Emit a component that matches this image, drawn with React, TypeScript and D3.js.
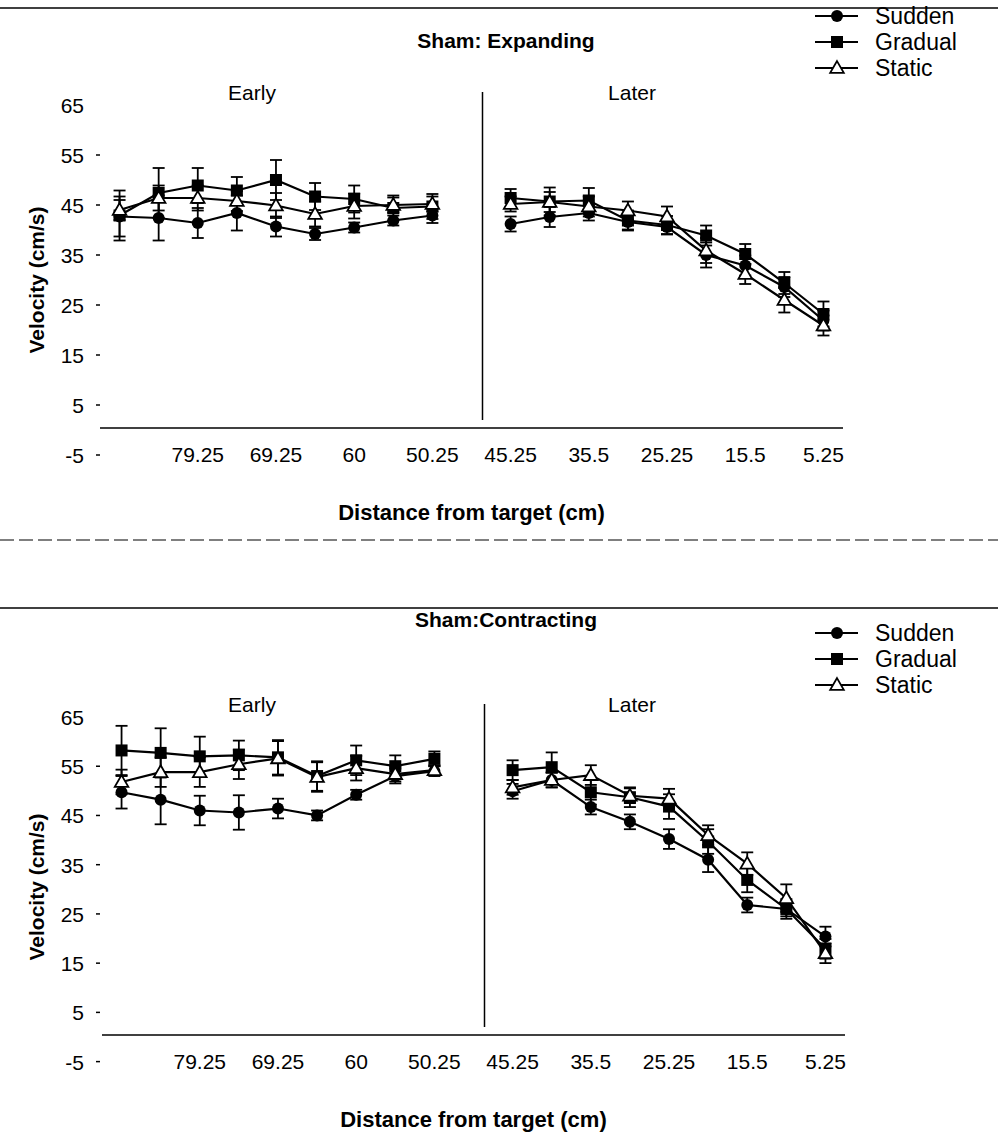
import * as d3 from 'd3'

// x categories: 9 early points (slots 0-8), gap (slot 9), 9 later points (slots 10-18)
const categoryLabels = ['', '', '79.25', '', '69.25', '', '60', '', '50.25', '', '45.25', '', '35.5', '', '25.25', '', '15.5', '', '5.25']
const yTicks = [65, 55, 45, 35, 25, 15, 5, -5]
const seriesNames = ['Sudden', 'Gradual', 'Static']

// Sham: Expanding
const expSudden = [42.3, 42, 41, 43, 40.3, 38.8, 40.1, 41.5, 42.5, 40.8, 42.2, 43, 41.2, 40.2, 34.6, 32.5, 28.2, 21.5]
const expSuddenErr = [4, 4.5, 3, 3.5, 2, 1.2, 1, 1, 1.5, 1.5, 2, 1.5, 1.5, 1.5, 2.5, 2, 2, 2]
const expGradual = [42.5, 47, 48.5, 47.5, 49.6, 46.3, 45.8, 44, 44.3, 46, 45.3, 45.5, 41.5, 40.6, 38.5, 34.8, 29, 22.8]
const expGradualErr = [5, 5, 3.5, 2.7, 4, 2.7, 2.7, 2.5, 2.5, 1.8, 2.8, 2.5, 2, 1.8, 2, 2, 2.2, 2.5]
const expStatic = [43.6, 46, 46, 45.4, 44.5, 42.8, 44.4, 44.6, 44.8, 44.8, 45.2, 44.3, 43.5, 42.3, 35.5, 30.8, 25.6, 20.5]
const expStaticErr = [2, 2.5, 2.5, 2, 2.5, 2.5, 2.5, 1.5, 1.5, 1.5, 2, 2, 1.8, 2, 2.5, 2, 2.5, 2]

// Sham: Contracting
const conSudden = [49.3, 47.8, 45.6, 45.2, 46, 44.6, 48.8, 52.6, 53.6, 49.5, 51.8, 46.3, 43.3, 39.8, 35.6, 26.4, 25.6, 20]
const conSuddenErr = [3.3, 5, 3, 3.5, 2, 1, 1, 1.5, 1, 1.5, 1.5, 1.5, 1.5, 2, 2.5, 1.5, 1.5, 2]
const conGradual = [57.8, 57.3, 56.6, 56.8, 56.4, 52.6, 55.8, 54.6, 56.1, 53.8, 54.4, 49.3, 48.3, 46.4, 39.3, 31.5, 25.6, 17.5]
const conGradualErr = [5, 5, 4, 3, 3.5, 3, 3, 2.2, 1.5, 2, 3, 2.5, 2, 2.5, 2.5, 2.5, 2, 2]
const conStatic = [51.4, 53.4, 53.4, 55, 56.2, 52.4, 54.2, 53, 53.8, 50.3, 51.8, 52.8, 48.6, 48, 40.6, 34.8, 27.8, 16.6]
const conStaticErr = [2.5, 3, 3, 3, 3.5, 3, 2.5, 1.5, 1, 1.5, 1.5, 2, 1.5, 2, 2, 2.3, 2.8, 2]

const slotOf = (i: number) => (i < 9 ? i : i + 1)

type PanelProps = {
  title: string
  titleY: number
  zeroY: number
  topY: number
  legendY: number
  legendGap: number
  xShift: number
  values: number[][]
  errors: number[][]
}

const Marker = ({ kind, cx, cy }: { kind: number; cx: number; cy: number }) => {
  if (kind === 0) return <circle cx={cx} cy={cy} r={6} fill="#000" />
  if (kind === 1) return <rect x={cx - 6} y={cy - 6} width={12} height={12} fill="#000" />
  const tri = d3.symbol(d3.symbolTriangle, 80)()
  return <path d={tri ?? ''} transform={`translate(${cx},${cy + 1})`} fill="#fff" stroke="#000" strokeWidth={1.8} />
}

const Panel = (p: PanelProps) => {
  const x = d3
    .scalePoint<number>()
    .domain(d3.range(19))
    .range([100 + p.xShift, 843 + p.xShift])
    .padding(0.5)
  const y = d3.scaleLinear().domain([0, 65]).range([p.zeroY, p.topY])
  const line = d3
    .line<number>()
    .x((_, i) => x(slotOf(i)) as number)
    .y((d) => y(d))
  const lineLater = d3
    .line<number>()
    .x((_, i) => x(i + 10) as number)
    .y((d) => y(d))
  const divX = (x(9) as number) + 11
  const font = 'Liberation Sans, Arial, sans-serif'
  const x0 = 100 + p.xShift
  const x1 = 843 + p.xShift

  return (
    <g fontFamily={font}>
      <text x={506} y={p.titleY} textAnchor="middle" fontSize={21} fontWeight="bold">
        {p.title}
      </text>
      <text x={252} y={y(65) - 3} textAnchor="middle" fontSize={21}>Early</text>
      <text x={632} y={y(65) - 3} textAnchor="middle" fontSize={21}>Later</text>

      {/* y axis ticks and labels */}
      {yTicks.map((t) => (
        <g key={t}>
          <text x={84} y={y(t) + 10} textAnchor="end" fontSize={21}>
            {t}
          </text>
          {t !== 65 && <line x1={96} x2={100} y1={y(t) + 2} y2={y(t) + 2} stroke="#000" strokeWidth={1.5} />}
        </g>
      ))}
      <text
        transform={`translate(44,${y(0) - 148}) rotate(-90)`}
        textAnchor="middle"
        fontSize={21}
        fontWeight="bold"
      >
        Velocity (cm/s)
      </text>

      {/* x axis */}
      <line x1={x0} x2={x1} y1={y(0)} y2={y(0)} stroke="#000" strokeWidth={1.5} />
      <line x1={divX} x2={divX} y1={y(65) - 11} y2={y(0) - 8} stroke="#000" strokeWidth={1.5} />
      {categoryLabels.map((c, i) =>
        c ? (
          <text key={i} x={x(i)} y={y(0) + 34} textAnchor="middle" fontSize={21}>
            {c}
          </text>
        ) : null
      )}
      <text x={(x0 + x1) / 2} y={y(0) + 92} textAnchor="middle" fontSize={22} fontWeight="bold">
        Distance from target (cm)
      </text>

      {/* series */}
      {p.values.map((vals, s) => (
        <g key={s}>
          {vals.map((v, i) => {
            const cx = x(slotOf(i)) as number
            const e = p.errors[s][i]
            return (
              <g key={i} stroke="#000" strokeWidth={1.8}>
                <line x1={cx} x2={cx} y1={y(v - e)} y2={y(v + e)} />
                <line x1={cx - 6} x2={cx + 6} y1={y(v - e)} y2={y(v - e)} />
                <line x1={cx - 6} x2={cx + 6} y1={y(v + e)} y2={y(v + e)} />
              </g>
            )
          })}
          <path d={line(vals.slice(0, 9)) ?? ''} fill="none" stroke="#000" strokeWidth={2.2} />
          <path d={lineLater(vals.slice(9)) ?? ''} fill="none" stroke="#000" strokeWidth={2.2} />
          {vals.map((v, i) => (
            <Marker key={i} kind={s} cx={x(slotOf(i)) as number} cy={y(v)} />
          ))}
        </g>
      ))}

      {/* legend */}
      {seriesNames.map((n, s) => {
        const ly = p.legendY + s * p.legendGap
        return (
          <g key={n}>
            <line x1={815} x2={858} y1={ly} y2={ly} stroke="#000" strokeWidth={2.2} />
            <Marker kind={s} cx={837} cy={ly} />
            <text x={875} y={ly + 8} fontSize={23}>{n}</text>
          </g>
        )
      })}
    </g>
  )
}

export default function App() {
  return (
    <svg width={998} height={1136} style={{ position: 'absolute', left: 0, top: 0, background: '#fff' }}>
      <rect width={998} height={1136} fill="#fff" />
      <line x1={0} x2={998} y1={8} y2={8} stroke="#000" strokeWidth={1.5} />
      <line x1={0} x2={998} y1={540} y2={540} stroke="#000" strokeWidth={1.2} strokeDasharray="14,5" />
      <line x1={0} x2={998} y1={608} y2={608} stroke="#000" strokeWidth={1.5} />
      <Panel
        title="Sham: Expanding"
        titleY={48}
        zeroY={428}
        topY={103}
        legendY={16}
        legendGap={26}
        xShift={0}
        values={[expSudden, expGradual, expStatic]}
        errors={[expSuddenErr, expGradualErr, expStaticErr]}
      />
      <Panel
        title="Sham:Contracting"
        titleY={627}
        zeroY={1035}
        topY={715}
        legendY={633}
        legendGap={26}
        xShift={2}
        values={[conSudden, conGradual, conStatic]}
        errors={[conSuddenErr, conGradualErr, conStaticErr]}
      />
    </svg>
  )
}
